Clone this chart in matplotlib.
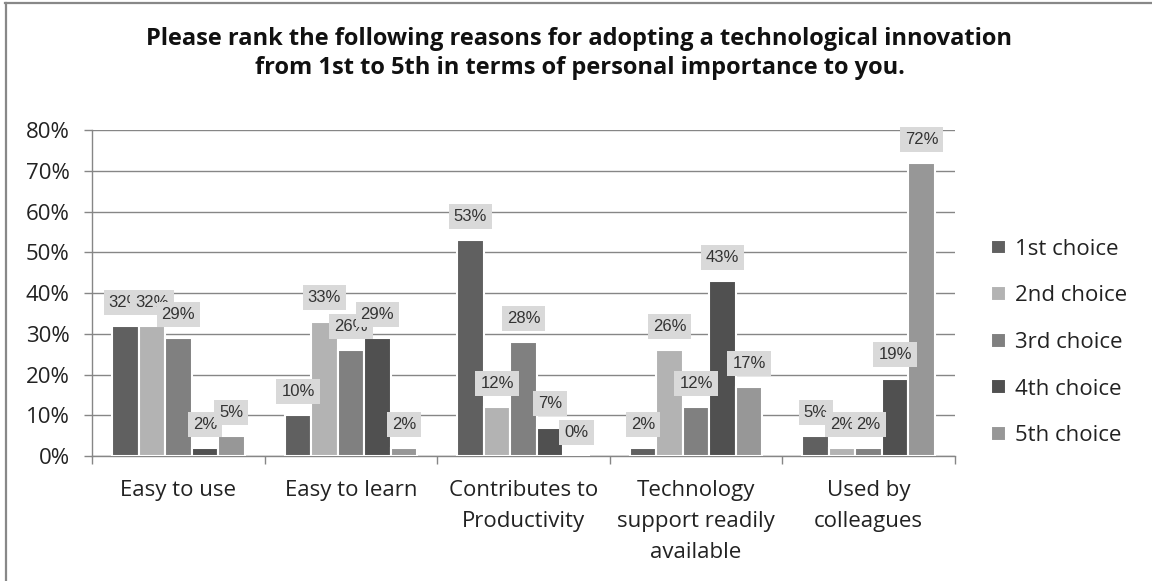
import numpy as np
import matplotlib.pyplot as plt
from matplotlib.lines import Line2D

categories = ["Easy to use", "Easy to learn", "Contributes to\nProductivity",
              "Technology\nsupport readily\navailable", "Used by\ncolleagues"]
series = ["1st choice", "2nd choice", "3rd choice", "4th choice", "5th choice"]
values = [
    [32, 10, 53, 2, 5],   # 1st choice
    [32, 33, 12, 26, 2],  # 2nd choice
    [29, 26, 28, 12, 2],  # 3rd choice
    [2, 29, 7, 43, 19],   # 4th choice
    [5, 2, 0, 17, 72],    # 5th choice
]
colors = ["#606060", "#b3b3b3", "#808080", "#505050", "#979797"]

fig = plt.figure(figsize=(11.52, 5.81), dpi=100)
ax = fig.add_axes([0.0799, 0.2151, 0.829 - 0.0799, 0.7762 - 0.2151])

x = np.arange(len(categories)) + 0.5
w = 0.1535
text_font = "Open Sans"
label_font = dict(family="Liberation Sans", size=12, color="#333333")

for i, (name, vals, c) in enumerate(zip(series, values, colors)):
    pos = x + (i - 2) * w
    ax.bar(pos, np.array(vals) / 100, width=w, color=c, edgecolor="white",
           linewidth=1.5, label=name, zorder=3)

# data labels drawn after all bars, series by series so later boxes sit on top
for i, vals in enumerate(values):
    pos = x + (i - 2) * w
    for px, v in zip(pos, vals):
        ax.annotate(f"{v}%", (px, v / 100), xytext=(0, 17), textcoords="offset points",
                    ha="center", va="center", zorder=5, **label_font,
                    bbox=dict(boxstyle="square,pad=0.3", fc="#d9d9d9", ec="none"))

ax.set_xlim(0, 5)
ax.set_ylim(0, 0.8)
yt = np.arange(0, 0.81, 0.1)
ax.set_yticks(yt)
ax.set_yticklabels([f"{int(round(t * 100))}%" for t in yt],
                   family=text_font, fontsize=16, color="#222222")
ax.set_xticks(x)
ax.set_xticklabels(categories, family=text_font, fontsize=16, linespacing=1.62,
                   va="top", color="#222222")
ax.set_xticks(np.arange(0, 6), minor=True)
ax.tick_params(axis="x", which="major", length=0, pad=17.5)
ax.tick_params(axis="x", which="minor", length=6, color="#868686", width=1)
ax.tick_params(axis="y", length=6, color="#868686", width=1, pad=10)
ax.grid(axis="y", color="#868686", linewidth=1, zorder=0)
ax.set_axisbelow(True)
for s in ["top", "right"]:
    ax.spines[s].set_visible(False)
for s in ["left", "bottom"]:
    ax.spines[s].set_color("#868686")
    ax.spines[s].set_linewidth(1)

fig.text(0.503, 0.908, "Please rank the following reasons for adopting a technological innovation\n"
         "from 1st to 5th in terms of personal importance to you.",
         ha="center", va="center", family=text_font, fontweight="bold", fontsize=17,
         linespacing=1.25, color="#111111")

ax.legend(loc="upper left", bbox_to_anchor=(0.851, 0.608), bbox_transform=fig.transFigure,
          frameon=False, prop=dict(family=text_font, size=16), handlelength=0.65,
          handleheight=0.65, handletextpad=0.4, labelspacing=1.15, borderpad=0,
          labelcolor="#222222")

# outer frame: only the left and top edges show
frame_kw = dict(transform=fig.transFigure, color="#888888", lw=1.6)
fig.lines.append(Line2D([0.0052, 0.0052], [0.0, 0.9948], **frame_kw))
fig.lines.append(Line2D([0.0045, 1.0], [0.9940, 0.9940], **frame_kw))

fig.savefig("out.png", dpi=100)
